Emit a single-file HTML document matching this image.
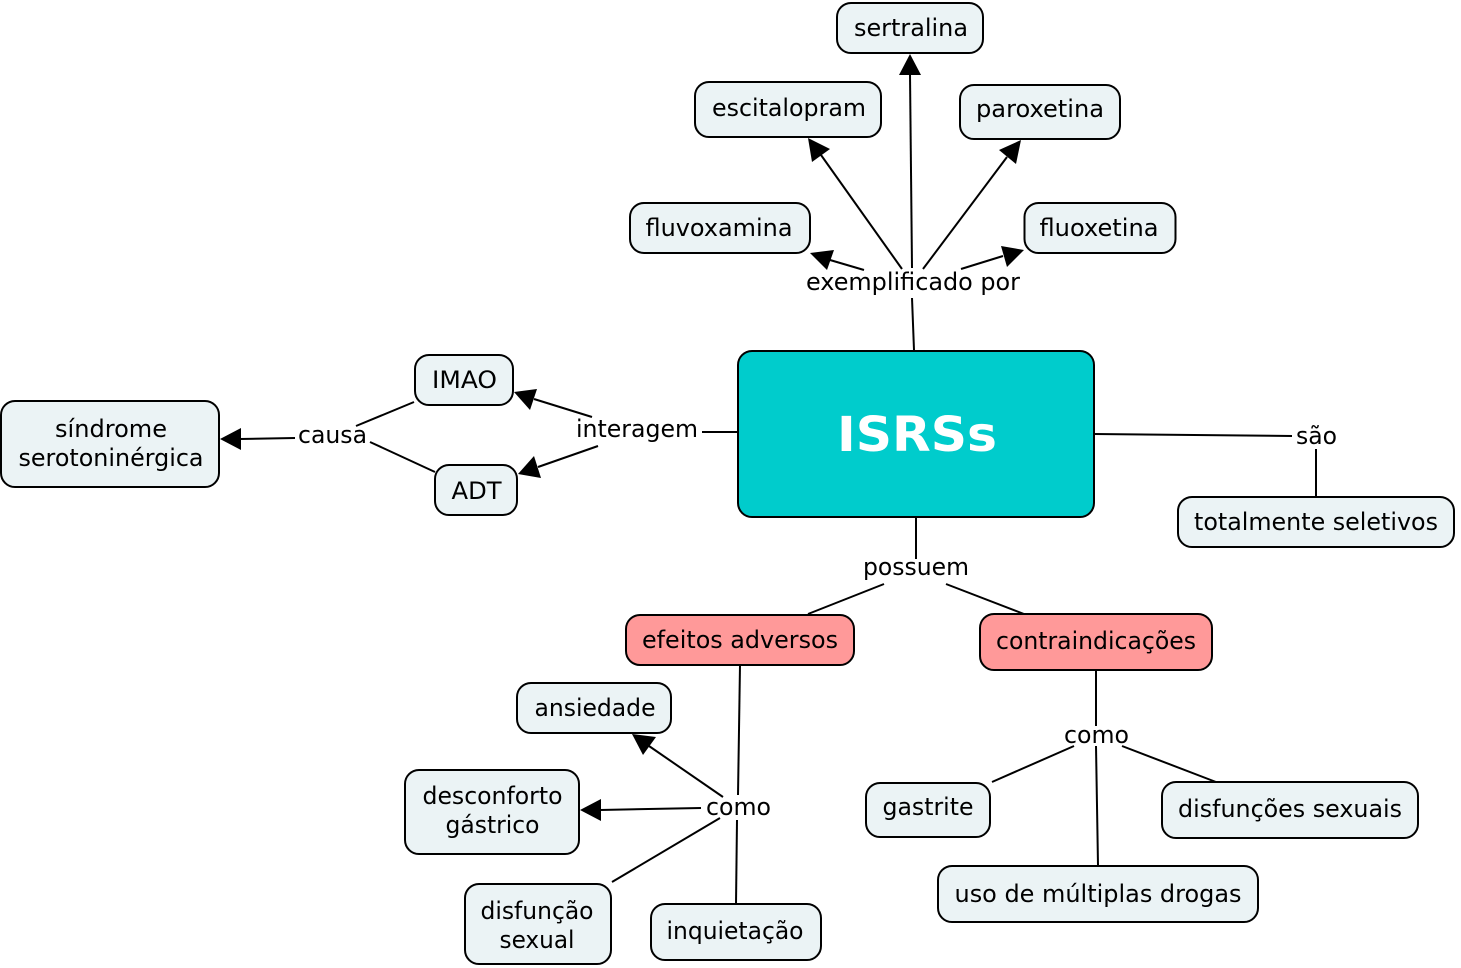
<!DOCTYPE html>
<html><head><meta charset="utf-8"><style>
html,body{margin:0;padding:0;background:#fff;width:1461px;height:968px;overflow:hidden}
svg{display:block}
text{font-family:"DejaVu Sans","Liberation Sans",sans-serif;font-size:24px;fill:#000;text-anchor:middle}
rect{stroke:#000;stroke-width:2;fill:#ebf3f5}
rect.r{fill:#ff9999}
line{stroke:#000;stroke-width:2}
polygon{fill:#000}
</style></head><body>
<svg width="1461" height="968" viewBox="0 0 1461 968" xmlns="http://www.w3.org/2000/svg">
<!-- connectors -->
<line x1="914" y1="350" x2="912" y2="298"/>
<line x1="912" y1="268" x2="910" y2="74"/><polygon points="910,54 899,75 921,75"/>
<line x1="902" y1="269" x2="821" y2="155"/><polygon points="808,138 812,162 830,149"/>
<line x1="923" y1="269" x2="1007" y2="157"/><polygon points="1021,140 999,150 1016,164"/>
<line x1="864" y1="270" x2="830" y2="260"/><polygon points="810,253 827,270 834,250"/>
<line x1="961" y1="269" x2="1003" y2="256"/><polygon points="1024,250 1001,246 1007,267"/>
<line x1="1094" y1="434" x2="1292" y2="436"/>
<line x1="1316" y1="449" x2="1316" y2="497"/>
<line x1="738" y1="432" x2="702" y2="432"/>
<line x1="592" y1="417" x2="534" y2="399"/><polygon points="514,392 530,410 537,389"/>
<line x1="598" y1="446" x2="538" y2="467"/><polygon points="518,474 541,478 534,456"/>
<line x1="414" y1="402" x2="356" y2="426"/>
<line x1="435" y1="472" x2="370" y2="442"/>
<line x1="295" y1="438" x2="240" y2="439"/><polygon points="220,439 241,450 241,428"/>
<line x1="916" y1="517" x2="916" y2="559"/>
<line x1="884" y1="584" x2="808" y2="614"/>
<line x1="946" y1="584" x2="1024" y2="614"/>
<line x1="740" y1="665" x2="738" y2="795"/>
<line x1="737" y1="820" x2="736" y2="904"/>
<line x1="723" y1="797" x2="649" y2="746"/><polygon points="632,734 643,755 656,737"/>
<line x1="701" y1="808" x2="600" y2="810"/><polygon points="580,810 601,821 601,799"/>
<line x1="720" y1="818" x2="612" y2="882"/>
<line x1="1096" y1="670" x2="1096" y2="726"/>
<line x1="1096" y1="746" x2="1098" y2="865"/>
<line x1="1074" y1="746" x2="992" y2="782"/>
<line x1="1122" y1="746" x2="1216" y2="782"/>
<!-- nodes -->
<rect x="837" y="3" width="146" height="50" rx="14"/>
<rect x="695" y="82" width="186" height="55" rx="14"/>
<rect x="960" y="85" width="160" height="54" rx="14"/>
<rect x="630" y="203" width="180" height="50" rx="14"/>
<rect x="1024.500" y="203" width="151" height="50" rx="14"/>
<rect x="738" y="351" width="356" height="166" rx="14" style="fill:#00cccc"/>
<rect x="415" y="355" width="98" height="50" rx="14"/>
<rect x="435" y="465" width="82" height="50" rx="14"/>
<rect x="1" y="401" width="218" height="86" rx="14"/>
<rect x="1178" y="497" width="276" height="50" rx="14"/>
<rect class="r" x="626" y="615" width="228" height="50" rx="14"/>
<rect class="r" x="980" y="614" width="232" height="56" rx="14"/>
<rect x="517" y="683" width="154" height="50" rx="14"/>
<rect x="405" y="770" width="174" height="84" rx="14"/>
<rect x="866" y="783" width="124" height="54" rx="14"/>
<rect x="1162" y="782" width="256" height="56" rx="14"/>
<rect x="938" y="866" width="320" height="56" rx="14"/>
<rect x="465" y="884" width="146" height="80" rx="14"/>
<rect x="651" y="904" width="170" height="56" rx="14"/>
<!-- node labels -->
<text x="911" y="36" textLength="114" lengthAdjust="spacingAndGlyphs">sertralina</text>
<text x="789" y="116" textLength="154" lengthAdjust="spacingAndGlyphs">escitalopram</text>
<text x="1040" y="117" textLength="128" lengthAdjust="spacingAndGlyphs">paroxetina</text>
<text x="719" y="236" textLength="147" lengthAdjust="spacingAndGlyphs">fluvoxamina</text>
<text x="1099" y="236" textLength="119" lengthAdjust="spacingAndGlyphs">fluoxetina</text>
<text x="917" y="451" textLength="160" lengthAdjust="spacingAndGlyphs" style="font-size:48px;font-weight:bold;fill:#fff">ISRSs</text>
<text x="464.500" y="388" textLength="65" lengthAdjust="spacingAndGlyphs">IMAO</text>
<text x="476.500" y="499" textLength="50" lengthAdjust="spacingAndGlyphs">ADT</text>
<text x="111" y="437" textLength="112" lengthAdjust="spacingAndGlyphs">síndrome</text>
<text x="111" y="466" textLength="185" lengthAdjust="spacingAndGlyphs">serotoninérgica</text>
<text x="1316" y="530" textLength="244" lengthAdjust="spacingAndGlyphs">totalmente seletivos</text>
<text x="740" y="648" textLength="196" lengthAdjust="spacingAndGlyphs">efeitos adversos</text>
<text x="1096" y="649" textLength="200" lengthAdjust="spacingAndGlyphs">contraindicações</text>
<text x="595" y="716" textLength="121" lengthAdjust="spacingAndGlyphs">ansiedade</text>
<text x="492.500" y="804" textLength="140" lengthAdjust="spacingAndGlyphs">desconforto</text>
<text x="492.500" y="833" textLength="94" lengthAdjust="spacingAndGlyphs">gástrico</text>
<text x="928" y="815" textLength="91" lengthAdjust="spacingAndGlyphs">gastrite</text>
<text x="1290" y="817" textLength="224" lengthAdjust="spacingAndGlyphs">disfunções sexuais</text>
<text x="1098" y="902" textLength="287" lengthAdjust="spacingAndGlyphs">uso de múltiplas drogas</text>
<text x="537" y="919" textLength="113" lengthAdjust="spacingAndGlyphs">disfunção</text>
<text x="537" y="948" textLength="75" lengthAdjust="spacingAndGlyphs">sexual</text>
<text x="735" y="939" textLength="137" lengthAdjust="spacingAndGlyphs">inquietação</text>
<!-- link labels -->
<text x="913" y="290" textLength="214" lengthAdjust="spacingAndGlyphs">exemplificado por</text>
<text x="1316.500" y="444" textLength="41" lengthAdjust="spacingAndGlyphs">são</text>
<text x="637" y="437" textLength="122" lengthAdjust="spacingAndGlyphs">interagem</text>
<text x="332.500" y="443" textLength="69" lengthAdjust="spacingAndGlyphs">causa</text>
<text x="916" y="575" textLength="106" lengthAdjust="spacingAndGlyphs">possuem</text>
<text x="738.500" y="815" textLength="65" lengthAdjust="spacingAndGlyphs">como</text>
<text x="1096.500" y="743" textLength="65" lengthAdjust="spacingAndGlyphs">como</text>
</svg>
</body></html>
